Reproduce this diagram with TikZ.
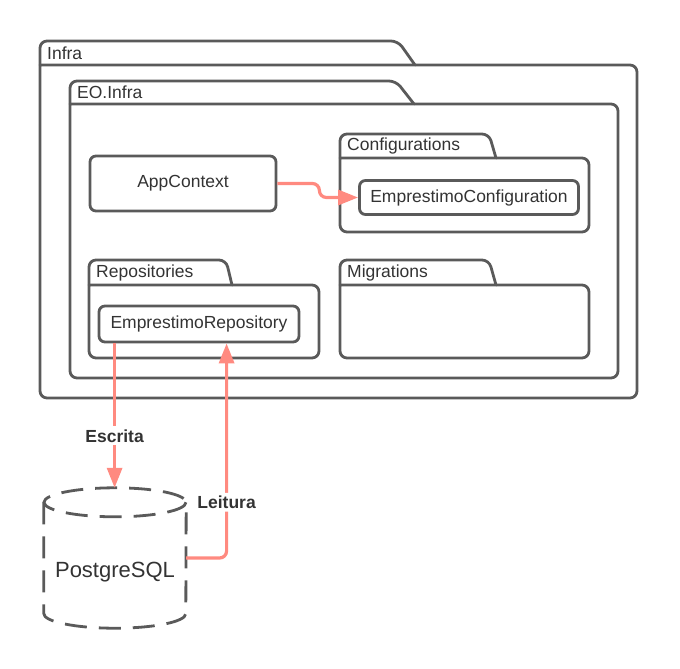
\documentclass[tikz,border=0pt]{standalone}
\usepackage{fontspec}
\setmainfont{Liberation Sans}
\usetikzlibrary{arrows.meta,calc}
\definecolor{linegray}{RGB}{90,90,90}
\definecolor{salmon}{RGB}{255,138,128}
\definecolor{txtgray}{RGB}{51,51,51}

\begin{document}
\begin{tikzpicture}[x=1pt,y=-1pt,>={Triangle[length=20pt,width=15pt]},
        font=\fontsize{17.5}{20}\selectfont,text=txtgray,
        pkg/.style={draw=linegray,line width=2.8pt,rounded corners=7pt,line join=round,line cap=round},
        classbox/.style={draw=linegray,line width=2.8pt,rounded corners=6pt,inner sep=0pt},
        dbline/.style={draw=linegray,line width=2.8pt,dash pattern=on 22pt off 12pt},
        flow/.style={draw=salmon,line width=3.2pt},
        flowlabel/.style={fill=white,font=\fontsize{17.5}{20}\selectfont\bfseries,inner sep=3pt},
        pkglabel/.style={anchor=west,inner sep=0pt}]
        \useasboundingbox (0,0) rectangle (680,669);

        % packages: tab and body
        \foreach \xa/\ya/\xs/\xe/\yb/\xb/\yc/\lab [count=\i] in
            {40/41/398/415/65/637/398/Infra,
             70/81/396/414/104/618/378/EO.Infra,
             340/134/489/496/158/589/232/Configurations,
             89/260/226/232/285/319/358/Repositories,
             340/260/489/496/285/589/358/Migrations}
        {
            \draw[pkg] (\xa,\yb) -- (\xa,\ya) -- (\xs,\ya) -- (\xe,\yb);
            \draw[pkg] (\xa,\yb) -- (\xa,\yc) -- (\xb,\yc) -- (\xb,\yb) -- (\xa,\yb);
            \node[pkglabel] (tab\i) at ({\xa+7},{(\ya+\yb)/2}) {\lab};
        }

        \node[classbox,minimum width=186,minimum height=55] (app) at (183,183.5) {AppContext};
        \node[classbox,minimum width=219,minimum height=34] (conf) at (469,197.5) {EmprestimoConfiguration};
        \node[classbox,minimum width=200,minimum height=36] (repo) at (199,324) {EmprestimoRepository};

        % database
        \node[minimum width=142,minimum height=140,inner sep=0pt] (db) at (115,558) {};
        \node[font=\fontsize{22}{26}\selectfont] (dblabel) at (115,572) {PostgreSQL};
        \draw[dbline] ($(db.north)+(0,14.5)$) ellipse [x radius=71,y radius=14.5];
        \draw[dbline] ($(db.north west)+(0,14.5)$) -- ($(db.south west)+(0,-14.5)$)
            arc[start angle=180,end angle=0,x radius=71,y radius=14.5]
            -- ($(db.north east)+(0,14.5)$);

        % connectors
        \draw[flow,->,rounded corners=7pt] (app.east) -- ++(42,0) |- (conf.west);
        \draw[flow,->] ($(repo.south west)+(17,0)$) coordinate (wr) -- (wr |- db.north)
            node[flowlabel,pos=0.64] {Escrita};
        \draw[flow,->,rounded corners=7pt] (db.east) -| ($(repo.south west)+(129,0)$)
            node[flowlabel,pos=0.63] {Leitura};
    \end{tikzpicture}
\end{document}
